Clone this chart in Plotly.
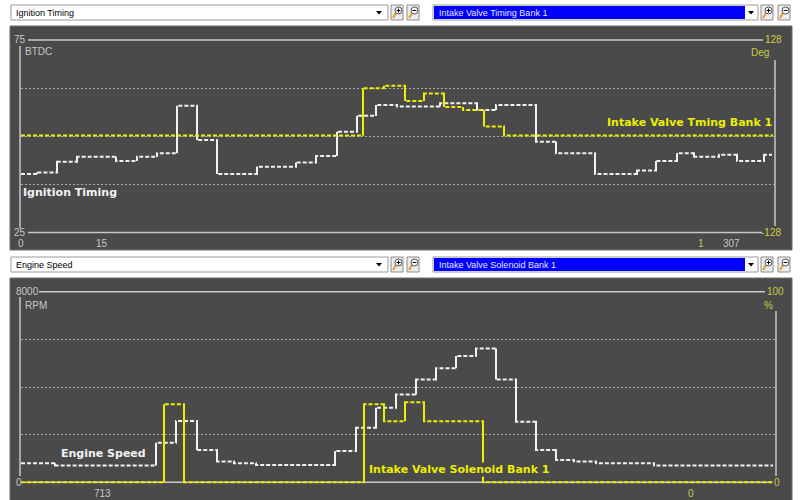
import plotly.graph_objects as go

W, H = 801, 500

# ---- logged data (time in s) ----
ign_t = [0, 0.8, 1.8, 2.8, 4.75, 5.8, 6.8, 7.8, 8.8, 9.8, 11.8, 13.75, 14.75, 15.8, 16.8,
         17.75, 18.8, 20.95, 22.8, 23.75, 25.75, 26.75, 28.7, 30.8, 31.75, 32.8, 33.65,
         34.9, 35.8, 37.15]
ign_v = [40.2, 40.6, 43.4, 44.7, 43.6, 44.7, 45.6, 57.9, 49.0, 40.2, 42.1, 43.2, 44.9,
         51.2, 55.3, 58.1, 57.7, 58.6, 56.8, 58.1, 48.6, 45.6, 40.2, 41.1, 43.6, 45.6,
         44.7, 45.2, 43.6, 45.2]
ign_end = 37.55

ivt_t = [0, 17.1, 18.15, 19.2, 20.15, 21.15, 22.1, 23.15, 24.15]
ivt_v = [1, 64, 67, 47, 57, 39, 35, 13, 1]
ivt_end = 37.6

rpm_t = [0, 1.7, 6.75, 7.75, 8.8, 9.8, 10.65, 11.75, 15.7, 16.75, 17.75, 18.75, 19.75,
         20.75, 21.75, 22.75, 23.75, 24.75, 25.75, 26.75, 27.65, 28.75, 31.65]
rpm_v = [800, 700, 1660, 2570, 1360, 870, 800, 730, 1310, 2290, 3130, 3690, 4320, 4790,
         5300, 5620, 4320, 2540, 1360, 940, 870, 800, 700]
rpm_end = 37.6

sol_t = [0, 7.15, 8.15, 17.15, 18.15, 19.2, 20.15, 23.1]
sol_v = [0, 41, 0, 41, 32, 42, 32, 0]
sol_end = 37.6

# axis ranges / labels
time_range = [0, 37.7]
ign_range = [25, 75]
ivt_range = [-128, 128]
rpm_range = [0, 8000]
sol_range = [0, 100]
ign_grid = [37.5, 50, 62.5]
rpm_grid = [2000, 4000, 6000]

top_sel = ["Ignition Timing", "Intake Valve Timing Bank 1"]
bot_sel = ["Engine Speed", "Intake Valve Solenoid Bank 1"]
top_marks = ["0", "15", "1", "307"]
bot_marks = ["713", "0"]

PANEL = "#4a4a4a"
AXC = "#c8c8c8"
AXY = "#cccc44"
WHITE = "#f2f2f2"
YEL = "#eeee00"


def px(x):
    return x / W


def py(y):
    return 1 - y / H


fig = go.Figure()


def add_series(t, v, t_end, color, xa, ya):
    xs = list(t) + [t_end]
    ys = list(v) + [v[-1]]
    fig.add_trace(go.Scatter(x=xs, y=ys, mode="lines", line_shape="hv",
                             line=dict(color=color, width=2, dash="4px,2px"),
                             xaxis=xa, yaxis=ya, hoverinfo="skip", showlegend=False))
    vx, vy = [], []
    for i in range(1, len(t)):
        vx += [t[i], t[i], None]
        vy += [v[i - 1], v[i], None]
    fig.add_trace(go.Scatter(x=vx, y=vy, mode="lines",
                             line=dict(color=color, width=2),
                             xaxis=xa, yaxis=ya, hoverinfo="skip", showlegend=False))


add_series(ign_t, ign_v, ign_end, WHITE, "x", "y")
add_series(ivt_t, ivt_v, ivt_end, YEL, "x", "y2")
add_series(rpm_t, rpm_v, rpm_end, WHITE, "x3", "y3")
add_series(sol_t, sol_v, sol_end, YEL, "x3", "y4")

shapes = []
annots = []


def rect(x0, y0, x1, y1, fill, line=None, lw=1, layer="below"):
    shapes.append(dict(type="rect", xref="paper", yref="paper",
                       x0=px(x0), x1=px(x1), y0=py(y1), y1=py(y0),
                       fillcolor=fill, layer=layer,
                       line=dict(color=line if line else fill, width=lw if line else 0)))


def seg(x0, y0, x1, y1, color, w=1.5, layer="below"):
    shapes.append(dict(type="line", xref="paper", yref="paper",
                       x0=px(x0), x1=px(x1), y0=py(y0), y1=py(y1),
                       line=dict(color=color, width=w), layer=layer))


def text(x, y, s, color, size=10, anchor="center", family="Liberation Sans",
         yref="paper", bg=None):
    a = dict(x=px(x), y=(py(y) if yref == "paper" else y), xref="paper", yref=yref,
             text=s, showarrow=False, xanchor=anchor, yanchor="middle",
             font=dict(family=family, size=size, color=color))
    if bg:
        a["bgcolor"] = bg
        a["borderpad"] = 0
    annots.append(a)


def arrow(cx, cy):
    shapes.append(dict(type="path", xref="paper", yref="paper",
                       path=f"M {px(cx-3)} {py(cy-1.5)} L {px(cx+3)} {py(cy-1.5)} L {px(cx)} {py(cy+2)} Z",
                       fillcolor="#000000", line=dict(width=0), layer="above"))


def zoom_btn(x0, y0, sign):
    rect(x0, y0, x0 + 12, y0 + 15, "#ececec", "#8c8c8c", 1, layer="above")
    cx, cy = x0 + 7.5, y0 + 5.5
    seg(x0 + 5, y0 + 8, x0 + 2, y0 + 13, "#e0a020", 2, layer="above")
    shapes.append(dict(type="circle", xref="paper", yref="paper",
                       x0=px(cx - 3.5), x1=px(cx + 3.5), y0=py(cy + 3.5), y1=py(cy - 3.5),
                       fillcolor="#ffffff", line=dict(color="#505050", width=1), layer="above"))
    seg(cx - 2, cy, cx + 2, cy, "#000000", 1, layer="above")
    if sign == "+":
        seg(cx, cy - 2, cx, cy + 2, "#000000", 1, layer="above")


def selector_row(y0, labels):
    y1 = y0 + 15
    # plain selector
    rect(11, y0, 388, y1, "#ffffff", "#9a9a9a", 1, layer="above")
    text(14, (y0 + y1) / 2, labels[0], "#000000", 9, "left")
    arrow(379, (y0 + y1) / 2)
    zoom_btn(391, y0, "+")
    zoom_btn(407, y0, "-")
    # highlighted selector
    rect(433, y0, 758, y1, "#ffffff", "#9a9a9a", 1, layer="above")
    rect(434, y0 + 1, 745, y1 - 1, "#0000ff", layer="above")
    text(437, (y0 + y1) / 2, labels[1], "#e8e8ff", 9, "left")
    arrow(751, (y0 + y1) / 2)
    zoom_btn(761, y0, "+")
    zoom_btn(778, y0, "-")


# dark panels
rect(10, 26, 792, 250, PANEL, "#6e6e6e", 1)
rect(10, 278, 792, 501, PANEL, "#6e6e6e", 1)

selector_row(5, top_sel)
selector_row(257, bot_sel)

# frame lines of the top chart
seg(28, 40, 763, 40, AXC)
seg(28, 232.5, 762, 232.5, AXC)
seg(20, 46, 20, 228, AXC)
seg(775, 60, 775, 226, AXC)
# frame lines of the bottom chart
seg(39, 291.7, 765, 291.7, AXC)
seg(25, 482.3, 772, 482.3, AXC)
seg(20, 297, 20, 476, AXC)
seg(776, 311, 776, 476, AXC)

# axis texts, top chart
text(20, ign_range[1], str(ign_range[1]), AXC, 10, yref="y")
text(20, ign_range[0], str(ign_range[0]), AXC, 10, yref="y")
text(23, 52, "BTDC", AXC, 10, "left")
text(773, ivt_range[1], str(ivt_range[1]), AXY, 10, yref="y2")
text(771, ivt_range[0], str(ivt_range[0]), AXY, 10, yref="y2")
text(771, 53, "Deg", AXY, 10, "right")
text(21, 243, top_marks[0], AXC, 10)
text(102, 243, top_marks[1], AXC, 10)
text(701, 243, top_marks[2], AXY, 10)
text(731, 243, top_marks[3], AXC, 10)

# axis texts, bottom chart
text(27, rpm_range[1], str(rpm_range[1]), AXC, 10, yref="y3")
text(19, rpm_range[0], str(rpm_range[0]), AXC, 10, yref="y3")
text(23, 305, "RPM", AXC, 10, "left")
text(775, sol_range[1], str(sol_range[1]), AXY, 10, yref="y4")
text(777, sol_range[0], str(sol_range[0]), AXY, 10, yref="y4")
text(768, 305, "%", AXY, 10)
text(102, 493, bot_marks[0], AXC, 10)
text(691, 493, bot_marks[1], AXY, 10)

# series labels
text(22, 192, "<b>Ignition Timing</b>", WHITE, 11, "left", "DejaVu Sans", bg=PANEL)
text(606, 122, "<b>Intake Valve Tming Bank 1</b>", YEL, 11, "left", "DejaVu Sans", bg=PANEL)
text(60, 453, "<b>Engine Speed</b>", WHITE, 11, "left", "DejaVu Sans", bg=PANEL)
text(368, 469, "<b>Intake Valve Solenoid Bank 1</b>", YEL, 11, "left", "DejaVu Sans", bg=PANEL)

x_dom = [px(21), px(775)]
top_dom = [py(232.5), py(40)]
# bottom range padded so the 0 baseline is not clipped
rpm_pad = -200
sol_pad = -2.5
bot_dom = [py(482.3 + 190.6 * 200 / 8000), py(291.7)]

hidden_x = dict(range=time_range, domain=x_dom, showgrid=False, zeroline=False,
                showticklabels=False, ticks="", showline=False, fixedrange=True)

fig.update_layout(
    width=W, height=H, margin=dict(l=0, r=0, t=0, b=0),
    paper_bgcolor="#ffffff", plot_bgcolor="rgba(0,0,0,0)",
    showlegend=False,
    xaxis=dict(**hidden_x, anchor="y"),
    xaxis3=dict(**hidden_x, anchor="y3"),
    yaxis=dict(range=ign_range, domain=top_dom, tickvals=ign_grid, showgrid=True,
               gridcolor="#a8a8a8", griddash="2px,2px", gridwidth=1, zeroline=False,
               showticklabels=False, ticks="", showline=False, anchor="x"),
    yaxis2=dict(range=ivt_range, overlaying="y", side="right", showgrid=False,
                zeroline=False, showticklabels=False, ticks="", showline=False, anchor="x"),
    yaxis3=dict(range=[rpm_pad, rpm_range[1]], domain=bot_dom, tickvals=rpm_grid,
                showgrid=True, gridcolor="#a8a8a8", griddash="2px,2px", gridwidth=1,
                zeroline=False, showticklabels=False, ticks="", showline=False, anchor="x3"),
    yaxis4=dict(range=[sol_pad, sol_range[1]], overlaying="y3", side="right",
                showgrid=False, zeroline=False, showticklabels=False, ticks="",
                showline=False, anchor="x3"),
    shapes=shapes,
    annotations=annots,
)

fig.write_html("out.html")
